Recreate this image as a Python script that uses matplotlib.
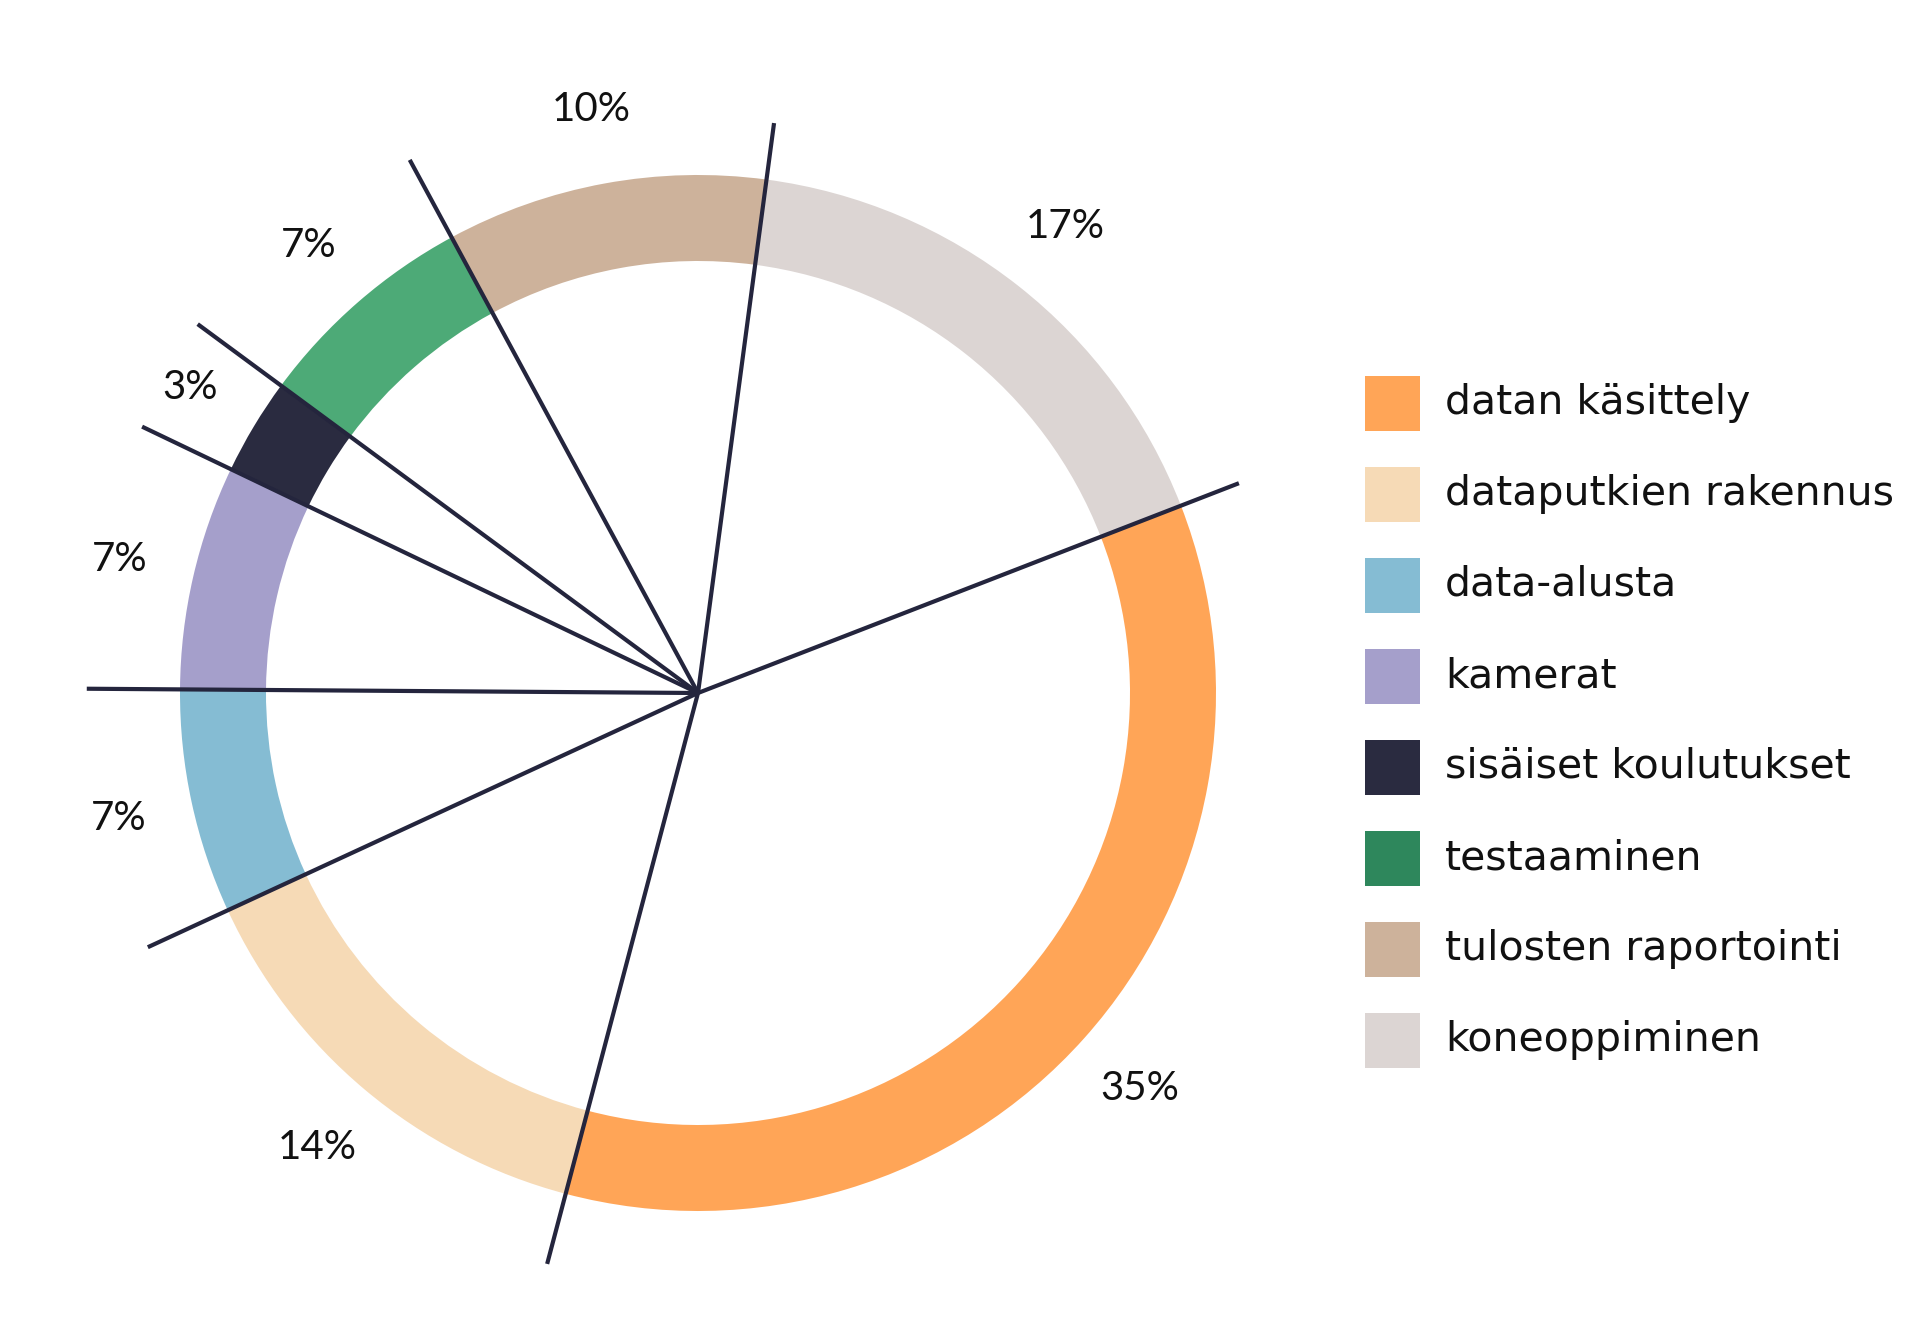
import matplotlib

matplotlib.use("Agg")
import matplotlib.pyplot as plt  # noqa: E402
import numpy as np  # noqa: E402
from matplotlib.patches import Rectangle  # noqa: E402

# data
categories = [
    "datan käsittely",
    "dataputkien rakennus",
    "data-alusta",
    "kamerat",
    "sisäiset koulutukset",
    "testaaminen",
    "tulosten raportointi",
    "koneoppiminen",
]
shares = [35, 14, 7, 7, 3, 7, 10, 17]
ring_colors = ["#FFA557", "#F6DAB6", "#85BCD3", "#A59FCB", "#2A2B40", "#4DAA77", "#CDB29B", "#DCD5D3"]
legend_colors = ["#FFA557", "#F6DAB6", "#85BCD3", "#A59FCB", "#2A2B40", "#2E875C", "#CDB29B", "#DCD5D3"]
# how far each divider line reaches, relative to the ring radius
line_reach = [1.12, 1.14, 1.17, 1.18, 1.19, 1.20, 1.17, 1.11]

plt.rcParams["font.family"] = ["Lato", "DejaVu Sans"]

W, H = 1920, 1342
fig = plt.figure(figsize=(W / 100, H / 100), dpi=100)
ax = fig.add_axes([0, 0, 1, 1])

cx, cy = 698, H - 693
R = 518
start = 21.2

wedges, _ = ax.pie(
    shares,
    colors=ring_colors,
    startangle=start,
    counterclock=False,
    radius=R,
    center=(cx, cy),
    wedgeprops=dict(width=86, linewidth=0),
    frame=True,
)
ax.set_xlim(0, W)
ax.set_ylim(0, H)
ax.set_aspect("equal")
ax.axis("off")

# divider lines from the centre through every wedge boundary
bounds = start - 3.6 * np.concatenate([[0], np.cumsum(shares)[:-1]])
for ang, reach in zip(bounds, line_reach):
    t = np.deg2rad(ang)
    ax.plot([cx, cx + R * reach * np.cos(t)], [cy, cy + R * reach * np.sin(t)],
            color="#24253D", lw=3, solid_capstyle="butt", zorder=3)

# percentage labels outside the ring
mids = start - 3.6 * (np.cumsum(shares) - np.array(shares) / 2)
for ang, v in zip(mids, shares):
    t = np.deg2rad(ang)
    ax.text(cx + R * 1.145 * np.cos(t), cy + R * 1.145 * np.sin(t), f"{v}%",
            ha="center", va="center", fontsize=29, color="#111111")

# legend
lx, ly0, step, sq = 1365, H - 403, 91, 55
for i, (name, col) in enumerate(zip(categories, legend_colors)):
    y = ly0 - i * step
    ax.add_patch(Rectangle((lx, y - sq / 2), sq, sq, color=col, lw=0))
    ax.text(lx + 80, y, name, ha="left", va="center", fontsize=29.5,
            family="DejaVu Sans", color="#111111")

fig.savefig("out.png", dpi=100, facecolor="white")
